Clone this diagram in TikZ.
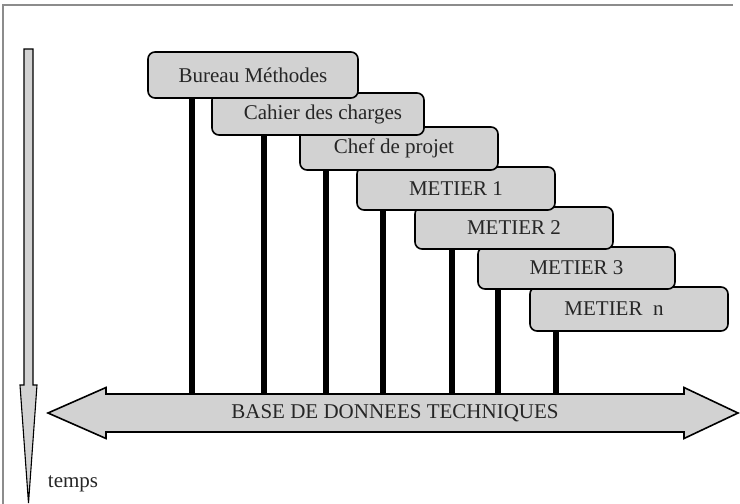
\documentclass[tikz,border=0pt]{standalone}
\usepackage{fontspec}
\setmainfont{Liberation Serif}
\begin{document}
\begin{tikzpicture}[x=1pt,y=-1pt,
  every node/.style={font=\fontsize{21}{24}\selectfont, text=black!85},
  phasebox/.style={draw=black, line width=1.6pt, fill=boxgray,
    rounded corners=7pt, inner sep=0pt},
  stem/.style={line width=6pt, black},
  frameline/.style={line width=1.4pt, gray!90},
]
\definecolor{boxgray}{RGB}{210,210,210}
\useasboundingbox (0,0) rectangle (740,504);

% page frame (top and left edges)
\draw[frameline] (3,504) -- (3,5) -- (733,5);

% time axis on the left
\draw[line width=1.1pt, fill=boxgray]
  (24,49) -- (33,49) -- (33,385) -- (37,385) -- (28.5,503)
  -- (20,385) -- (24,385) -- cycle;
\node (temps) at (73,484) {temps};

% shared technical database: double arrow
\draw[line width=1.6pt, fill=boxgray]
  (48,413) -- (106,387.5) -- (106,394) -- (684,394) -- (684,387.5)
  -- (738,413) -- (684,438.5) -- (684,432) -- (106,432) -- (106,438.5) -- cycle;
\node[minimum width=578pt, minimum height=38pt, inner sep=0pt] (shaft)
  at (395,413) {BASE DE DONNEES TECHNIQUES};

% phase boxes, from the last to the first so each one lies over the next
\node[phasebox, minimum width=198pt, minimum height=44pt] (b7) at (629,309)
  {METIER\ \ n\hspace*{30pt}};
\node[phasebox, minimum width=197pt, minimum height=42pt] (b6) at (576.5,268)
  {METIER 3};
\node[phasebox, minimum width=198pt, minimum height=42pt] (b5) at (514,228)
  {METIER 2};
\node[phasebox, minimum width=198pt, minimum height=43pt] (b4) at (456,188.5)
  {METIER 1};
\node[phasebox, minimum width=198pt, minimum height=43pt] (b3) at (399,148.5)
  {Chef de projet\hspace*{10pt}};
\node[phasebox, minimum width=212pt, minimum height=42pt] (b2) at (318,114)
  {\hspace*{10pt}Cahier des charges};
\node[phasebox, minimum width=210pt, minimum height=46pt] (b1) at (253,75)
  {Bureau Méthodes};

% stems from each box down to the database
\coordinate (s1) at ([xshift=45pt]b1.south west);
\coordinate (s2) at ([xshift=53pt]b2.south west);
\coordinate (s3) at ([xshift=27pt]b3.south west);
\coordinate (s4) at ([xshift=27pt]b4.south west);
\coordinate (s5) at ([xshift=38pt]b5.south west);
\coordinate (s6) at ([xshift=21pt]b6.south west);
\coordinate (s7) at ([xshift=27pt]b7.south west);
\foreach \s in {s1,s2,s3,s4,s5,s6,s7}
  \draw[stem] (\s) -- (\s |- shaft.north);
\end{tikzpicture}
\end{document}
